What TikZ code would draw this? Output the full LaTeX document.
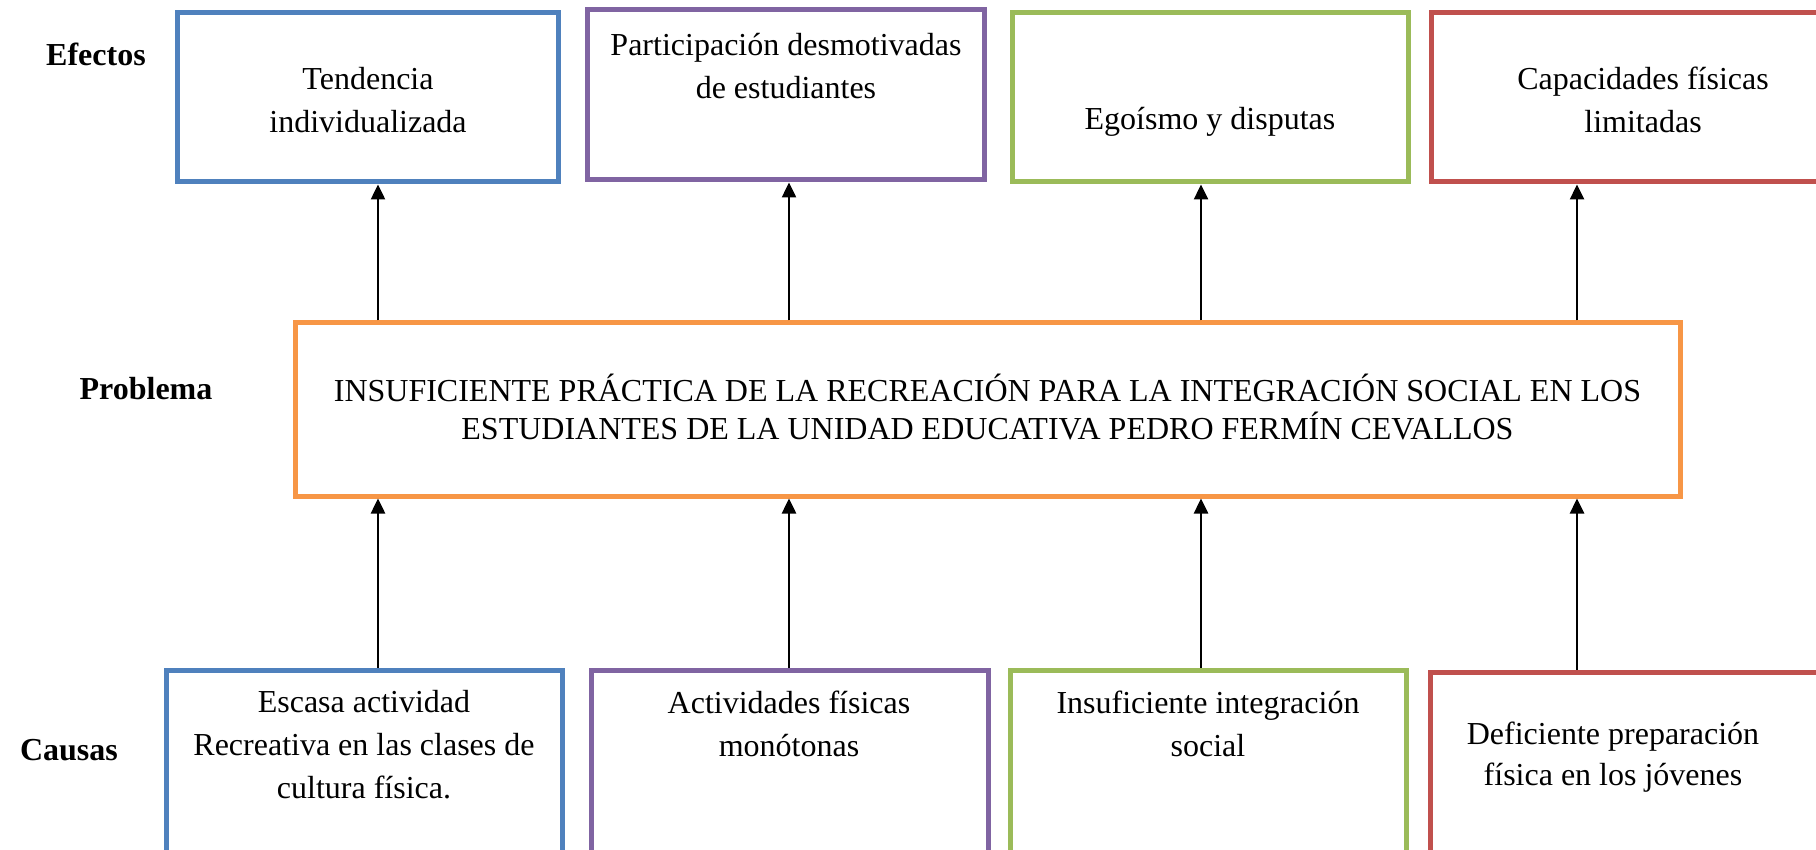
\documentclass[tikz,border=0pt]{standalone}
\usepackage{fontspec}
\setmainfont{Liberation Serif}
\usetikzlibrary{arrows.meta}
\definecolor{cblue}{HTML}{4F81BD}
\definecolor{cpurple}{HTML}{8064A2}
\definecolor{cgreen}{HTML}{9BBB59}
\definecolor{cred}{HTML}{C0504D}
\definecolor{corange}{HTML}{F79646}
\tikzset{
  box/.style={draw=#1, line width=5pt, inner sep=0pt, fill=white},
  txt/.style={align=center, inner sep=0pt, font=\fontsize{32}{43}\selectfont},
  lbl/.style={inner sep=0pt, font=\fontsize{32}{40}\selectfont\bfseries},
  arr/.style={line width=2.5pt, -{Triangle[width=14pt,length=15pt]}}
}
\begin{document}
\begin{tikzpicture}[x=1pt,y=-1pt]
\useasboundingbox (0,0) rectangle (1816,850);
\clip (0,0) rectangle (1816,850);
\fill[white] (0,0) rectangle (1816,850);
% top boxes (effects)
\node[box=cblue, minimum width=381pt, minimum height=169pt] (t1) at (367.5,97.5) {};
\node[box=cpurple, minimum width=397pt, minimum height=170pt] (t2) at (785.5,95) {};
\node[box=cgreen, minimum width=396pt, minimum height=169pt] (t3) at (1210,97.5) {};
\node[box=cred, minimum width=449pt, minimum height=169pt] (t4) at (1655.5,97.5) {};
% problem
\node[box=corange, minimum width=1385pt, minimum height=173pt] (mid) at (987.5,409.5) {};
% bottom boxes (causes)
\node[box=cblue, minimum width=396pt, minimum height=210pt] (b1) at (364,775) {};
\node[box=cpurple, minimum width=397pt, minimum height=210pt] (b2) at (789.5,775) {};
\node[box=cgreen, minimum width=396pt, minimum height=210pt] (b3) at (1208,775) {};
\node[box=cred, minimum width=450pt, minimum height=208pt] (b4) at (1655,776) {};
% texts
\node[txt] (t1x) at (368,100) {Tendencia\\individualizada};
\node[txt] (t2x) at (786,66) {Participación desmotivadas\\de estudiantes};
\node[txt] (t3x) at (1210,122) {Egoísmo y disputas};
\node[txt] (t4x) at (1643,100) {Capacidades físicas\\limitadas};
\node[txt, font=\fontsize{32}{38}\selectfont] (midx) at (987.5,407) {INSUFICIENTE PRÁCTICA DE LA RECREACIÓN PARA LA INTEGRACIÓN SOCIAL EN LOS\\ESTUDIANTES DE LA UNIDAD EDUCATIVA PEDRO FERMÍN CEVALLOS};
\node[txt] (b1x) at (364,745) {Escasa actividad\\Recreativa en las clases de\\cultura física.};
\node[txt] (b2x) at (789,723.5) {Actividades físicas\\monótonas};
\node[txt] (b3x) at (1208,723.5) {Insuficiente integración\\social};
\node[txt, font=\fontsize{32}{41}\selectfont] (b4x) at (1613,757.5) {Deficiente preparación\\física en los jóvenes};
% side labels
\node[lbl] (lef) at (96,54) {Efectos};
\node[lbl] (lpr) at (146,389) {Problema};
\node[lbl] (lca) at (69,750) {Causas};
% arrow columns
\coordinate (c1) at (378,0);
\coordinate (c2) at (789,0);
\coordinate (c3) at (1201,0);
\coordinate (c4) at (1577,0);
\draw[arr] (mid.north -| c1) -- (t1.south -| c1);
\draw[arr] (mid.north -| c2) -- (t2.south -| c2);
\draw[arr] (mid.north -| c3) -- (t3.south -| c3);
\draw[arr] (mid.north -| c4) -- (t4.south -| c4);
\draw[arr] (b1.north -| c1) -- (mid.south -| c1);
\draw[arr] (b2.north -| c2) -- (mid.south -| c2);
\draw[arr] (b3.north -| c3) -- (mid.south -| c3);
\draw[arr] (b4.north -| c4) -- (mid.south -| c4);
\end{tikzpicture}
\end{document}
